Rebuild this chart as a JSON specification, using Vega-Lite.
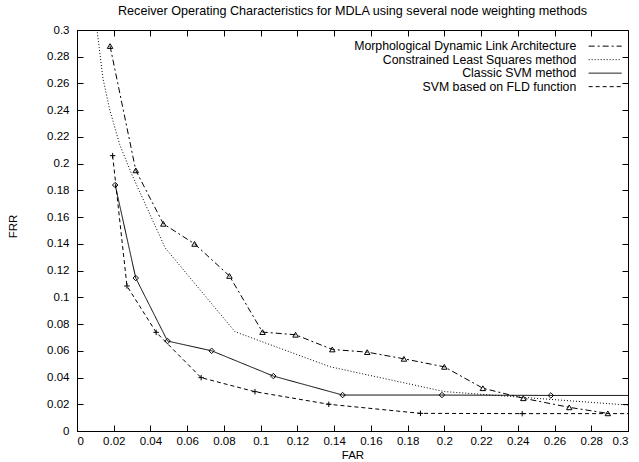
{
  "$schema": "https://vega.github.io/schema/vega-lite/v6.json",
  "width": 551,
  "height": 401,
  "autosize": {"type": "none"},
  "padding": {"left": 77, "top": 30, "right": 11, "bottom": 31},
  "background": "white",
  "config": {
    "font": "Liberation Sans",
    "view": {"stroke": "black", "strokeWidth": 1},
    "axis": {"grid": false, "domainColor": "black", "tickColor": "black", "labelColor": "black", "titleColor": "black", "labelFontSize": 11.5, "titleFontSize": 11.5, "titleFontWeight": "normal", "tickSize": -6}
  },
  "title": {"text": "Receiver Operating Characteristics for MDLA using several node weighting methods", "fontSize": 12.6, "fontWeight": "normal", "color": "black", "anchor": "middle", "offset": 6},
  "data": {"values": [
    {"series": "Morphological Dynamic Link Architecture", "far": 0.018, "frr": 0.288},
    {"series": "Morphological Dynamic Link Architecture", "far": 0.032, "frr": 0.195},
    {"series": "Morphological Dynamic Link Architecture", "far": 0.047, "frr": 0.155},
    {"series": "Morphological Dynamic Link Architecture", "far": 0.064, "frr": 0.14},
    {"series": "Morphological Dynamic Link Architecture", "far": 0.083, "frr": 0.116},
    {"series": "Morphological Dynamic Link Architecture", "far": 0.101, "frr": 0.074},
    {"series": "Morphological Dynamic Link Architecture", "far": 0.119, "frr": 0.072},
    {"series": "Morphological Dynamic Link Architecture", "far": 0.139, "frr": 0.061},
    {"series": "Morphological Dynamic Link Architecture", "far": 0.158, "frr": 0.059},
    {"series": "Morphological Dynamic Link Architecture", "far": 0.178, "frr": 0.054},
    {"series": "Morphological Dynamic Link Architecture", "far": 0.2, "frr": 0.048},
    {"series": "Morphological Dynamic Link Architecture", "far": 0.221, "frr": 0.032},
    {"series": "Morphological Dynamic Link Architecture", "far": 0.243, "frr": 0.0245},
    {"series": "Morphological Dynamic Link Architecture", "far": 0.268, "frr": 0.0177},
    {"series": "Morphological Dynamic Link Architecture", "far": 0.289, "frr": 0.0132},
    {"series": "Constrained Least Squares method", "far": 0.0105, "frr": 0.305},
    {"series": "Constrained Least Squares method", "far": 0.0141, "frr": 0.264},
    {"series": "Constrained Least Squares method", "far": 0.0177, "frr": 0.241},
    {"series": "Constrained Least Squares method", "far": 0.0232, "frr": 0.2145},
    {"series": "Constrained Least Squares method", "far": 0.0295, "frr": 0.193},
    {"series": "Constrained Least Squares method", "far": 0.048, "frr": 0.137},
    {"series": "Constrained Least Squares method", "far": 0.086, "frr": 0.0743},
    {"series": "Constrained Least Squares method", "far": 0.1377, "frr": 0.0481},
    {"series": "Constrained Least Squares method", "far": 0.2, "frr": 0.0295},
    {"series": "Constrained Least Squares method", "far": 0.3, "frr": 0.0194},
    {"series": "Classic SVM method", "far": 0.0208, "frr": 0.184},
    {"series": "Classic SVM method", "far": 0.032, "frr": 0.1144},
    {"series": "Classic SVM method", "far": 0.0493, "frr": 0.0673},
    {"series": "Classic SVM method", "far": 0.0733, "frr": 0.06},
    {"series": "Classic SVM method", "far": 0.1069, "frr": 0.0411},
    {"series": "Classic SVM method", "far": 0.1446, "frr": 0.0269},
    {"series": "Classic SVM method", "far": 0.1987, "frr": 0.0269},
    {"series": "Classic SVM method", "far": 0.258, "frr": 0.0266},
    {"series": "Classic SVM method", "far": 0.32, "frr": 0.0266},
    {"series": "SVM based on FLD function", "far": 0.0194, "frr": 0.206},
    {"series": "SVM based on FLD function", "far": 0.0272, "frr": 0.1085},
    {"series": "SVM based on FLD function", "far": 0.0431, "frr": 0.0738},
    {"series": "SVM based on FLD function", "far": 0.0676, "frr": 0.0399},
    {"series": "SVM based on FLD function", "far": 0.0969, "frr": 0.0294},
    {"series": "SVM based on FLD function", "far": 0.1371, "frr": 0.02},
    {"series": "SVM based on FLD function", "far": 0.187, "frr": 0.0132},
    {"series": "SVM based on FLD function", "far": 0.2424, "frr": 0.013},
    {"series": "SVM based on FLD function", "far": 0.32, "frr": 0.013}
  ]},
  "resolve": {"axis": {"x": "independent", "y": "independent"}},
  "layer": [
    {
      "mark": {"type": "line", "clip": true, "strokeWidth": 1, "color": "black"},
      "encoding": {
        "x": {"field": "far", "type": "quantitative", "scale": {"domain": [0, 0.3], "nice": false, "zero": false},
          "axis": {"title": "FAR", "values": [0,0.02,0.04,0.06,0.08,0.1,0.12,0.14,0.16,0.18,0.2,0.22,0.24,0.26,0.28,0.3], "format": ".2~f", "labelPadding": 10, "titlePadding": 3}},
        "y": {"field": "frr", "type": "quantitative", "scale": {"domain": [0, 0.3], "nice": false, "zero": false},
          "axis": {"title": "FRR", "values": [0,0.02,0.04,0.06,0.08,0.1,0.12,0.14,0.16,0.18,0.2,0.22,0.24,0.26,0.28,0.3], "format": ".2~f", "labelPadding": 14, "titleX": -64, "titleY": 196, "titleAlign": "center", "titleBaseline": "middle", "titleAngle": -90}},
        "strokeDash": {"field": "series", "type": "nominal",
          "scale": {"domain": ["Morphological Dynamic Link Architecture", "Constrained Least Squares method", "Classic SVM method", "SVM based on FLD function"],
                    "range": [[6, 3, 2, 3], [1, 2], [1, 0], [4, 3]]},
          "legend": {"title": null, "orient": "none", "legendX": 522, "legendY": 10, "symbolType": "M-3.3,0H3.3", "symbolSize": 100, "symbolStrokeColor": "black", "symbolStrokeWidth": 1, "labelFontSize": 12.3, "labelColor": "black", "labelAlign": "right", "labelOffset": -35, "rowPadding": 0.5, "labelLimit": 400}}
      }
    },
    {
      "transform": [{"filter": "datum.series !== 'Constrained Least Squares method'"}],
      "mark": {"type": "point", "clip": true, "filled": false, "color": "black", "strokeWidth": 1, "opacity": 1},
      "encoding": {
        "x": {"field": "far", "type": "quantitative", "scale": {"domain": [0, 0.3], "nice": false, "zero": false},
          "axis": {"orient": "top", "title": null, "labels": false, "domain": false, "values": [0,0.02,0.04,0.06,0.08,0.1,0.12,0.14,0.16,0.18,0.2,0.22,0.24,0.26,0.28,0.3]}},
        "y": {"field": "frr", "type": "quantitative", "scale": {"domain": [0, 0.3], "nice": false, "zero": false},
          "axis": {"orient": "right", "title": null, "labels": false, "domain": false, "values": [0,0.02,0.04,0.06,0.08,0.1,0.12,0.14,0.16,0.18,0.2,0.22,0.24,0.26,0.28,0.3]}},
        "shape": {"field": "series", "type": "nominal",
          "scale": {"domain": ["Morphological Dynamic Link Architecture", "Classic SVM method", "SVM based on FLD function"],
                    "range": ["triangle-up", "diamond", "M-1,0H1M0,-1V1"]},
          "size": {"value": 40},
          "legend": null}
      }
    }
  ]
}
